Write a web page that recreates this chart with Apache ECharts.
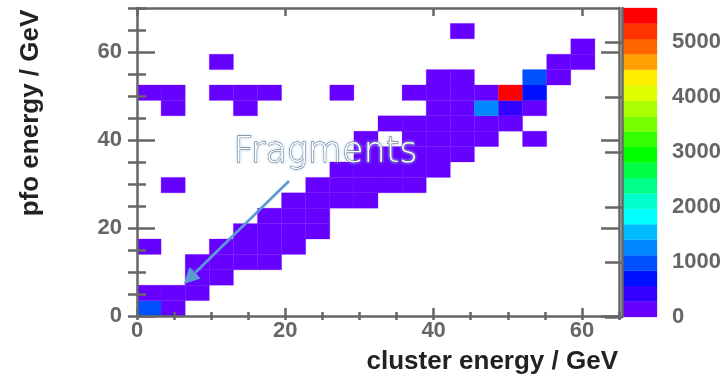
<!DOCTYPE html>
<html>
<head>
<meta charset="utf-8">
<script src="https://cdn.jsdelivr.net/npm/echarts@6/dist/echarts.min.js"></script>
<style>
  html, body { margin: 0; padding: 0; background: #fff; }
  #chart { width: 727px; height: 378px; }
</style>
</head>
<body>
<div id="chart"></div>
<script>
// 2D histogram: 20 x 20 bins, cluster energy 0-65 GeV vs pfo energy 0-70 GeV
const xRange = [0, 65];
const yRange = [0, 70];
const xBinWidth = 3.25;
const yBinWidth = 3.5;
const xTickLabels = [0, 20, 40, 60];
const yTickLabels = [0, 20, 40, 60];
const zTickLabels = [0, 1000, 2000, 3000, 4000, 5000];
const zMax = 5620;

// Colour palette, lowest contour level first
const paletteColors = [
  '#6600ff', '#3300ff', '#0011ff', '#0050ff', '#0088ff',
  '#00bbff', '#00ffff', '#00ffcc', '#00ff88', '#00ff44',
  '#00ff00', '#33ff00', '#77ff00', '#aaff00', '#ddff00',
  '#ffee00', '#ffa000', '#ff6600', '#ff3300', '#ff0000'
];

// Filled bins: [x bin index, y bin index, entries]
const filledBins = [
  [0, 0, 1000], [1, 0, 240],
  [0, 1, 160], [1, 1, 220], [2, 1, 90],
  [2, 2, 180], [3, 2, 120],
  [2, 3, 60], [3, 3, 200], [4, 3, 190], [5, 3, 70],
  [0, 4, 15], [3, 4, 50], [4, 4, 210], [5, 4, 230], [6, 4, 80],
  [4, 5, 40], [5, 5, 220], [6, 5, 240], [7, 5, 90],
  [5, 6, 60], [6, 6, 230], [7, 6, 200],
  [6, 7, 50], [7, 7, 210], [8, 7, 250], [9, 7, 70],
  [1, 8, 12], [7, 8, 40], [8, 8, 180], [9, 8, 240], [10, 8, 160], [11, 8, 45],
  [8, 9, 60], [9, 9, 170], [10, 9, 250], [11, 9, 200], [12, 9, 55],
  [9, 10, 40], [10, 10, 120], [11, 10, 240], [12, 10, 210], [13, 10, 50],
  [9, 11, 20], [11, 11, 90], [12, 11, 230], [13, 11, 250], [14, 11, 110], [16, 11, 18],
  [10, 12, 30], [11, 12, 80], [12, 12, 200], [13, 12, 260], [14, 12, 180], [15, 12, 60],
  [1, 13, 10], [4, 13, 12], [12, 13, 70], [13, 13, 150], [14, 13, 1350], [15, 13, 470], [16, 13, 120],
  [0, 14, 14], [1, 14, 11], [3, 14, 13], [4, 14, 10], [5, 14, 12], [8, 14, 10],
  [11, 14, 30], [12, 14, 90], [13, 14, 160], [14, 14, 250], [15, 14, 5480], [16, 14, 720],
  [12, 15, 25], [13, 15, 40], [16, 15, 980], [17, 15, 60],
  [3, 16, 10], [17, 16, 120], [18, 16, 45],
  [18, 17, 30],
  [13, 18, 10]
];

const AXIS_GREY = '#666666';
const FONT = "'Liberation Sans', Arial, Helvetica, sans-serif";

const heatData = filledBins.map(([ix, iy, n]) => [ix * xBinWidth, iy * yBinWidth, n]);
const levelStep = zMax / paletteColors.length;
const colorBands = paletteColors.map((c, i) => [i * levelStep, (i + 1) * levelStep, i]);

const chart = echarts.init(document.getElementById('chart'), null, { renderer: 'canvas' });

const lineStyle = { color: AXIS_GREY, width: 2.5 };
const labelStyle = {
  color: AXIS_GREY, fontSize: 22, fontWeight: 'bold', fontFamily: FONT,
  formatter: (v) => String(v)
};

function majorAxis(gridIndex, position, range, ticks, tickLen, labelMargin) {
  return {
    type: 'value', gridIndex, position, min: range[0], max: range[1], z: 10,
    axisLine: { show: true, onZero: false, lineStyle },
    axisTick: { show: true, inside: true, length: tickLen, customValues: ticks, lineStyle },
    axisLabel: labelMargin == null ? { show: false } :
      Object.assign({ show: true, customValues: ticks, margin: labelMargin }, labelStyle),
    splitLine: { show: false }
  };
}
function minorAxis(gridIndex, position, range, tickLen) {
  return {
    type: 'value', gridIndex, position, min: range[0], max: range[1], interval: 5, z: 10,
    axisLine: { show: false },
    axisTick: { show: true, inside: true, length: tickLen, lineStyle },
    axisLabel: { show: false },
    splitLine: { show: false }
  };
}

const option = {
  backgroundColor: '#ffffff',
  animation: false,
  grid: [
    { left: 137, top: 8, width: 482, height: 308 },
    { left: 137, top: 8, width: 482, height: 308 },
    { left: 622, top: 8, width: 35, height: 309 }
  ],
  xAxis: [
    majorAxis(0, 'bottom', xRange, xTickLabels, 8, 4),
    majorAxis(0, 'top', xRange, xTickLabels, 8, null),
    minorAxis(1, 'bottom', xRange, 4),
    minorAxis(1, 'top', xRange, 4),
    { type: 'value', gridIndex: 2, min: 0, max: 1, show: false }
  ],
  yAxis: [
    majorAxis(0, 'left', yRange, yTickLabels, 18, 15),
    majorAxis(0, 'right', yRange, yTickLabels, 18, null),
    minorAxis(1, 'left', yRange, 9),
    minorAxis(1, 'right', yRange, 9),
    {
      type: 'value', gridIndex: 2, position: 'right', min: 0, max: zMax, z: 10,
      axisLine: { show: true, lineStyle },
      axisTick: { show: true, inside: true, length: 17, customValues: zTickLabels, lineStyle },
      axisLabel: Object.assign({ show: true, customValues: zTickLabels, margin: 15 }, labelStyle),
      splitLine: { show: false }
    }
  ],
  visualMap: {
    type: 'piecewise', show: false, seriesIndex: 0, dimension: 2,
    pieces: colorBands.map(([lo, hi, i]) => ({ gte: lo, lt: hi, color: paletteColors[i] }))
  },
  series: [
    {
      type: 'custom', name: 'entries', xAxisIndex: 0, yAxisIndex: 0,
      encode: { x: 0, y: 1 },
      data: heatData,
      renderItem: function (params, api) {
        const x0 = api.value(0), y0 = api.value(1);
        const p0 = api.coord([x0, y0]);
        const p1 = api.coord([x0 + xBinWidth, y0 + yBinWidth]);
        const color = api.visual('color');
        return {
          type: 'rect',
          shape: { x: p0[0], y: p1[1], width: p1[0] - p0[0], height: p0[1] - p1[1] },
          style: { fill: color, stroke: color, lineWidth: 0.3 }
        };
      }
    },
    {
      type: 'custom', name: 'palette', xAxisIndex: 4, yAxisIndex: 4,
      encode: { y: [0, 1] },
      data: colorBands,
      renderItem: function (params, api) {
        const p0 = api.coord([0, api.value(0)]);
        const p1 = api.coord([1, api.value(1)]);
        const color = paletteColors[api.value(2)];
        return {
          type: 'rect',
          shape: { x: p0[0], y: p1[1], width: p1[0] - p0[0], height: p0[1] - p1[1] },
          style: { fill: color, stroke: color, lineWidth: 0.3 }
        };
      }
    }
  ]
};
chart.setOption(option);

// Axis titles and the "Fragments" annotation with its arrow
const toPx = (pt) => chart.convertToPixel({ xAxisIndex: 0, yAxisIndex: 0 }, pt);
const arrowFrom = toPx([20.5, 30.7]);
const arrowTip = toPx([6.3, 7.3]);
const labelAt = toPx([13.0, 33.0]);
const dx = arrowTip[0] - arrowFrom[0], dy = arrowTip[1] - arrowFrom[1];
const len = Math.hypot(dx, dy);
const ux = dx / len, uy = dy / len;
const headLen = 16, headHalf = 8;
const base = [arrowTip[0] - ux * headLen, arrowTip[1] - uy * headLen];
const ARROW_BLUE = '#5b9bd5';

chart.setOption({
  graphic: [
    {
      type: 'text', x: 618, y: 362, z: 20,
      style: {
        text: 'cluster energy / GeV', align: 'right', verticalAlign: 'middle',
        font: "bold 26px " + FONT, fill: '#222222'
      }
    },
    {
      type: 'text', x: 31, y: 113, rotation: Math.PI / 2, z: 20,
      style: {
        text: 'pfo energy / GeV', align: 'center', verticalAlign: 'middle',
        font: "bold 26px " + FONT, fill: '#222222'
      }
    },
    {
      type: 'line', z: 20,
      shape: { x1: arrowFrom[0], y1: arrowFrom[1], x2: base[0], y2: base[1] },
      style: { stroke: ARROW_BLUE, lineWidth: 2.7 }
    },
    {
      type: 'polygon', z: 20,
      shape: {
        points: [
          arrowTip,
          [base[0] - uy * headHalf, base[1] + ux * headHalf],
          [base[0] + uy * headHalf, base[1] - ux * headHalf]
        ]
      },
      style: { fill: ARROW_BLUE }
    },
    {
      type: 'text', x: labelAt[0], y: labelAt[1], z: 21,
      style: {
        text: 'Fragments', align: 'left', verticalAlign: 'bottom',
        font: "200 35px 'DejaVu Sans', sans-serif",
        fill: '#ffffff', stroke: '#333333', lineWidth: 0.8,
        textShadowColor: 'rgba(160,200,240,0.9)', textShadowBlur: 3,
        shadowColor: 'rgba(160,200,240,0.9)', shadowBlur: 3
      }
    }
  ]
});
</script>
</body>
</html>
